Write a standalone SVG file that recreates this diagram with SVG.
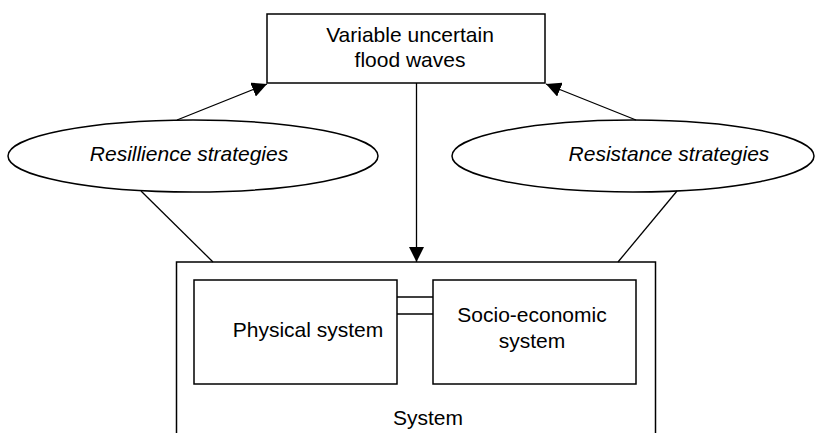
<svg xmlns="http://www.w3.org/2000/svg" width="817" height="433" viewBox="0 0 817 433">
<defs>
<marker id="ah" viewBox="0 0 10 10" refX="10" refY="5" markerWidth="15" markerHeight="15" markerUnits="userSpaceOnUse" orient="auto">
<path d="M0,0 L10,5 L0,10 Z" fill="#000"/>
</marker>
</defs>
<style>
.box{fill:#fff;stroke:#000;stroke-width:1.5}
.ln{stroke:#000;stroke-width:1.3;fill:none}
.t{font-family:"Liberation Sans",Arial,sans-serif;font-size:21px;fill:#000;text-anchor:middle}
.i{font-style:italic}
</style>
<rect width="817" height="433" fill="#fff"/>
<g id="system">
<rect class="box" x="176.5" y="262" width="479" height="190"/>
<text class="t" x="428" y="425">System</text>
</g>
<g id="physical">
<rect class="box" x="194" y="280" width="203" height="104"/>
<text class="t" x="308" y="337">Physical system</text>
</g>
<g id="socio">
<rect class="box" x="433" y="280" width="203" height="104"/>
<text class="t" x="532" y="322">Socio-economic</text>
<text class="t" x="532" y="348">system</text>
</g>
<g id="flood">
<rect class="box" x="267" y="14" width="278" height="69"/>
<text class="t" x="410" y="42">Variable uncertain</text>
<text class="t" x="410" y="67">flood waves</text>
</g>
<g id="resilience">
<ellipse class="box" cx="193" cy="156" rx="185" ry="36"/>
<text class="t i" x="189" y="161">Resillience strategies</text>
</g>
<g id="resistance">
<ellipse class="box" cx="633" cy="156" rx="181" ry="36"/>
<text class="t i" x="669" y="161">Resistance strategies</text>
</g>
<g id="connectors">
<line class="ln" x1="177" y1="120" x2="267" y2="84" marker-end="url(#ah)"/>
<line class="ln" x1="636" y1="120" x2="546" y2="84" marker-end="url(#ah)"/>
<line class="ln" x1="416.5" y1="83" x2="416.5" y2="262" marker-end="url(#ah)"/>
<line class="ln" x1="141" y1="191" x2="213" y2="262"/>
<line class="ln" x1="677" y1="191" x2="618" y2="262"/>
<line class="ln" x1="397" y1="297" x2="433" y2="297"/>
<line class="ln" x1="397" y1="314" x2="433" y2="314"/>
</g>
</svg>
